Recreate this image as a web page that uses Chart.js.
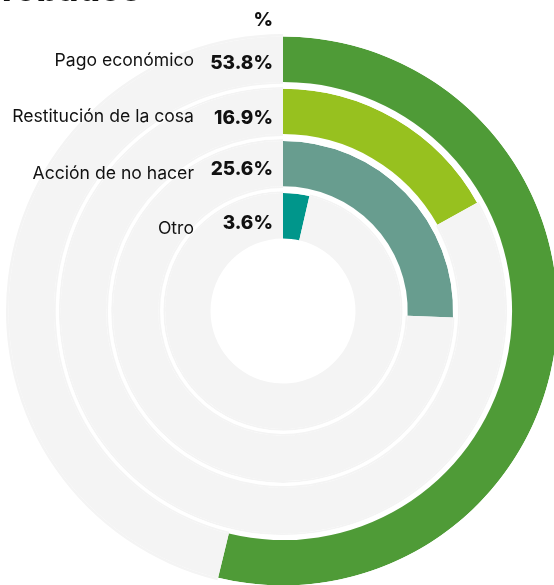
<!DOCTYPE html>
<html>
<head>
<meta charset="utf-8">
<script src="https://cdn.jsdelivr.net/npm/chart.js@4.4.1/dist/chart.umd.min.js"></script>
<style>
  html, body { margin: 0; padding: 0; background: #ffffff; }
  #page { position: relative; width: 554px; height: 585px; overflow: hidden; background: #fff; }
  #title { position: absolute; left: 2px; top: -32px; font: 800 34px Inter, "Liberation Sans", sans-serif; color: #111; white-space: nowrap; }
  #wrap { position: absolute; left: 0; top: 0; width: 560px; height: 588px; }
</style>
</head>
<body>
<div id="page">
  <div id="wrap"><canvas id="c"></canvas></div>
  <div id="title">robados</div>
</div>
<script>
const categories = ["Pago económico", "Restitución de la cosa", "Acción de no hacer", "Otro"];
const values = [53.8, 16.9, 25.6, 3.6];
const valueLabels = ["53.8%", "16.9%", "25.6%", "3.6%"];
const unitHeader = "%";
const colors = ["#4f9b37", "#97c11f", "#689d8f", "#00968b"];
const trackColor = "#f4f4f4";

// ring layout (weights in px of radius)
const BAR_W = 45.5, EDGE_W = 1.8, LINE_W = 3.2, OUTER_EDGE_W = 2.5;

function edgeRing(v) {
  // thin band next to a bar: white where the bar is, grey track elsewhere
  return { data: [v, 100 - v], backgroundColor: ["#ffffff", trackColor], borderWidth: 0, weight: 0 };
}

const datasets = [];
datasets.push(Object.assign(edgeRing(values[0]), { weight: OUTER_EDGE_W }));
categories.forEach((cat, i) => {
  datasets.push({
    label: cat,
    data: [values[i], 100 - values[i]],
    backgroundColor: [colors[i], trackColor],
    borderWidth: 0,
    weight: BAR_W,
    isBar: true
  });
  if (i < categories.length - 1) {
    datasets.push(Object.assign(edgeRing(values[i]), { weight: EDGE_W }));
    datasets.push({ data: [100], backgroundColor: ["#ffffff"], borderWidth: 0, weight: LINE_W });
    datasets.push(Object.assign(edgeRing(values[i + 1]), { weight: EDGE_W }));
  }
});

const labelY = [60, 116, 172.5, 228];
const valueY = [61.7, 116.7, 168.3, 221.7];

const labelPlugin = {
  id: "ringLabels",
  afterDraw(chart) {
    const ctx = chart.ctx;
    ctx.save();
    ctx.textBaseline = "alphabetic";
    ctx.textAlign = "right";
    ctx.fillStyle = "#111111";
    categories.forEach((cat, i) => {
      ctx.font = "17.6px Inter, 'Liberation Sans', sans-serif";
      ctx.fillText(cat, 194, labelY[i] + 6.4);
      ctx.font = "800 19px Inter, 'Liberation Sans', sans-serif";
      ctx.fillText(valueLabels[i], 273, valueY[i] + 6.9);
    });
    ctx.font = "800 19px Inter, 'Liberation Sans', sans-serif";
    ctx.fillText(unitHeader, 273, 19.5 + 6.9);
    ctx.restore();
  }
};

new Chart(document.getElementById("c"), {
  type: "doughnut",
  data: { labels: ["value", "rest"], datasets },
  options: {
    responsive: true,
    maintainAspectRatio: false,
    animation: false,
    cutout: 72.5,
    rotation: 0,
    circumference: 360,
    layout: { padding: { left: 6, top: 34, right: 0, bottom: 0 } },
    events: [],
    plugins: { legend: { display: false }, tooltip: { enabled: false } }
  },
  plugins: [labelPlugin]
});
</script>
</body>
</html>
